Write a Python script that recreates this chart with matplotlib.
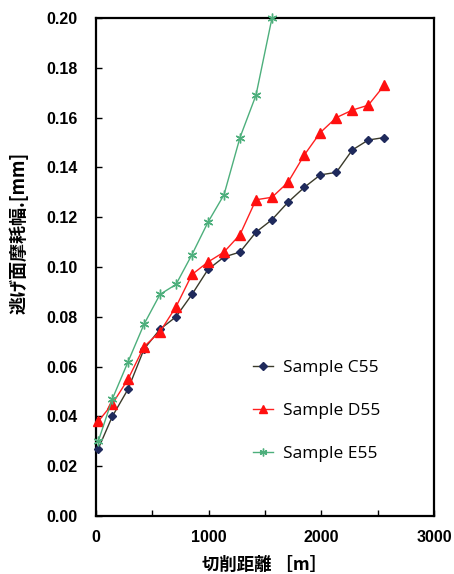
import matplotlib
matplotlib.use("Agg")
import matplotlib.pyplot as plt
from matplotlib.ticker import MultipleLocator, FormatStrFormatter

plt.rcParams['font.family'] = ['Liberation Sans', 'Noto Sans CJK JP', 'DejaVu Sans']
plt.rcParams['font.weight'] = 'bold'

dist_c = [20, 145, 285, 426, 568, 710, 852, 994, 1136, 1278, 1420, 1562, 1704, 1849, 1991, 2133, 2275, 2417, 2559]
wear_c = [0.027, 0.040, 0.051, 0.067, 0.075, 0.080, 0.089, 0.099, 0.104, 0.106, 0.114, 0.119, 0.126, 0.132, 0.137, 0.138, 0.147, 0.151, 0.152]
dist_d = dist_c
wear_d = [0.038, 0.045, 0.055, 0.068, 0.074, 0.084, 0.097, 0.102, 0.106, 0.113, 0.127, 0.128, 0.134, 0.145, 0.154, 0.160, 0.163, 0.165, 0.173]
dist_e = [20, 145, 285, 426, 568, 710, 852, 994, 1136, 1278, 1420, 1562]
wear_e = [0.030, 0.047, 0.062, 0.077, 0.089, 0.093, 0.105, 0.118, 0.129, 0.152, 0.169, 0.200]
labels = ["Sample C55", "Sample D55", "Sample E55"]
xticks = [0, 1000, 2000, 3000]

fig = plt.figure(figsize=(4.54, 5.74), dpi=100)
ax = fig.add_axes([96/454, 1-516/574, (434-96)/454, (516-18)/574])

ax.plot(dist_c, wear_c, color='#3a3a2a', lw=1.0, marker='D', ms=4.5,
        mfc='#1f2a5c', mec='#1f2a5c', label=labels[0], clip_on=False, zorder=3)
ax.plot(dist_d, wear_d, color='#ff2020', lw=1.0, marker='^', ms=7,
        mfc='#ff1010', mec='#ff1010', label=labels[1], clip_on=False, zorder=3)
ax.plot(dist_e, wear_e, color='#4daf7c', lw=1.0, marker=(6, 2, 0), ms=7,
        mec='#4daf7c', label=labels[2], clip_on=False, zorder=3)

ax.set_xlim(0, 3000)
ax.set_ylim(0, 0.20)
ax.set_xticks(xticks)
ax.xaxis.set_minor_locator(MultipleLocator(500))
ax.yaxis.set_major_locator(MultipleLocator(0.02))
ax.yaxis.set_major_formatter(FormatStrFormatter('%.2f'))
ax.tick_params(axis='both', which='both', direction='in', length=4, width=1,
               labelsize=11.5)
ax.tick_params(axis='y', pad=13)
ax.tick_params(axis='x', pad=10)
for s in ax.spines.values():
    s.set_linewidth(1.6)

ax.set_ylabel("逃げ面摩耗幅.[mm]", family=['Noto Sans CJK JP', 'DejaVu Sans'],
              fontweight='bold', fontsize=13)
ax.yaxis.set_label_coords(-(96-29)/338, (516-233)/498)
ax.set_xlabel("切削距離 ［m］", family=['Noto Sans CJK JP', 'DejaVu Sans'],
              fontweight='bold', fontsize=12.5)
ax.xaxis.set_label_coords(0.5, -(556-516)/498)

leg = ax.legend(loc='upper left', bbox_to_anchor=(0.417, 0.345), frameon=False,
                prop={'family': 'Open Sans', 'size': 12.5, 'weight': 'normal'},
                handlelength=1.15, labelspacing=1.55, handletextpad=0.6,
                markerscale=0.8)

fig.savefig("out.png", dpi=100)
